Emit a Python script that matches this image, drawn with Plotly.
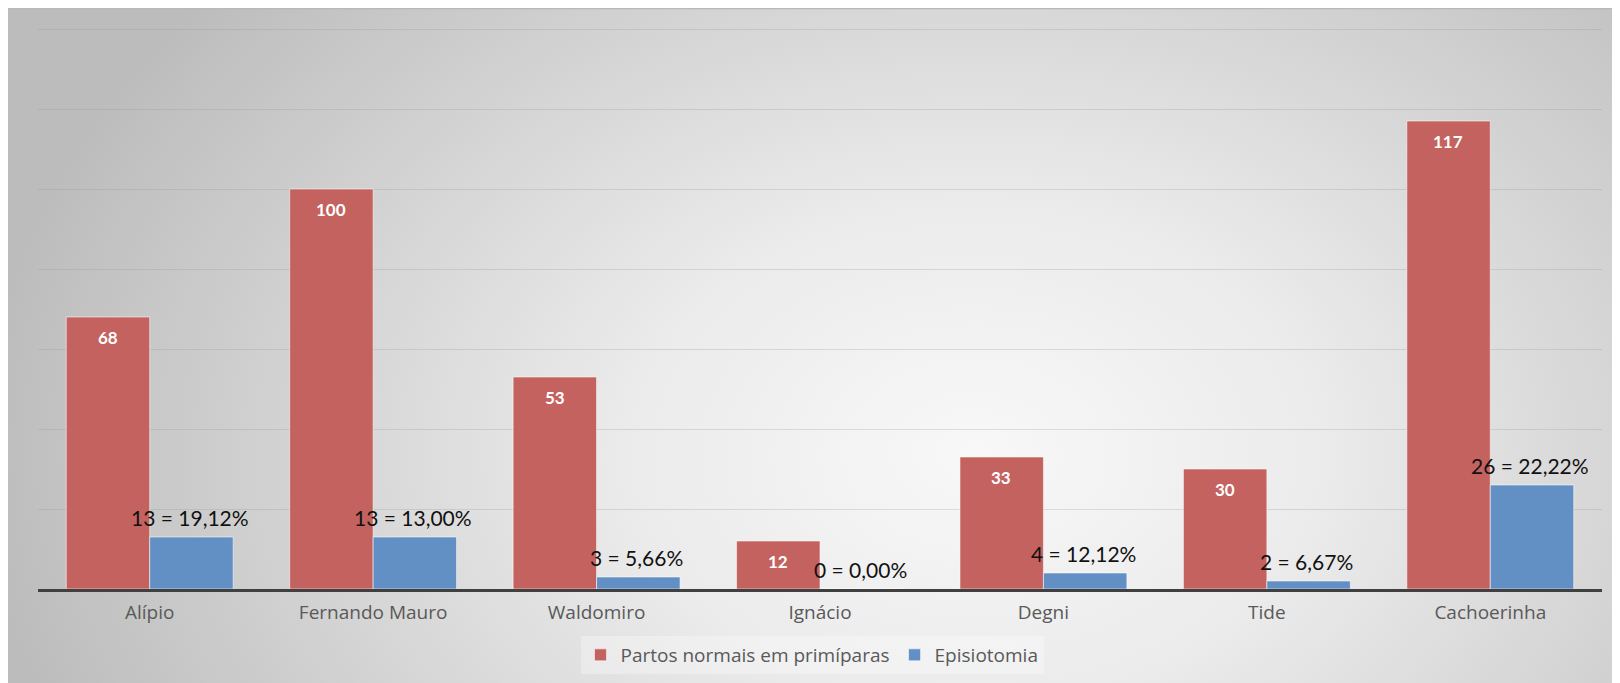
import base64
import plotly.graph_objects as go

categories = ["Alípio", "Fernando Mauro", "Waldomiro", "Ignácio", "Degni", "Tide", "Cachoerinha"]
partos = [68, 100, 53, 12, 33, 30, 117]
episiotomia = [13, 13, 3, 0, 4, 2, 26]
epi_labels = ["13 = 19,12%", "13 = 13,00%", "3 = 5,66%", "0 = 0,00%", "4 = 12,12%", "2 = 6,67%", "26 = 22,22%"]
series_names = ["Partos normais em primíparas", "Episiotomia"]

# page body has an 8px margin, so the figure starts at (8, 8) in the window
W, H = 1612, 675
L, R, T, B = 30, 18, 17, 94
PW, PH = W - L - R, H - T - B

svg = f'''<svg xmlns="http://www.w3.org/2000/svg" width="{W}" height="{H}" viewBox="0 0 {W} {H}">
<defs><radialGradient id="g" gradientUnits="userSpaceOnUse" cx="{W*0.6}" cy="{H*0.66}" r="{W*0.62}"
 gradientTransform="translate({W*0.6} {H*0.66}) scale(1 0.72) translate({-W*0.6} {-H*0.66})">
<stop offset="0" stop-color="#f8f8f8"/><stop offset="0.35" stop-color="#ebebeb"/><stop offset="1" stop-color="#bcbcbc"/></radialGradient></defs>
<rect x="0" y="0" width="{W}" height="{H}" fill="url(#g)"/>
<line x1="0" y1="0.5" x2="{W}" y2="0.5" stroke="#b8b8b8" stroke-width="1.5"/>
</svg>'''
src = "data:image/svg+xml;base64," + base64.b64encode(svg.encode()).decode()

fig = go.Figure()
fig.add_trace(go.Bar(
    x=categories, y=partos, name=series_names[0],
    marker=dict(color="#c4625f", line=dict(color="rgba(255,255,255,0.55)", width=1)),
))
fig.add_trace(go.Bar(
    x=categories, y=episiotomia, name=series_names[1],
    marker=dict(color="#628fc4", line=dict(color="rgba(255,255,255,0.55)", width=1)),
))

annotations = []
for c, v in zip(categories, partos):
    annotations.append(dict(x=c, y=v, xref="x", yref="y", text=f"<b>{v}</b>", showarrow=False,
                            xshift=-42, yshift=-20, yanchor="middle",
                            font=dict(family="Lato", size=17, color="white")))
for c, v, t in zip(categories, episiotomia, epi_labels):
    annotations.append(dict(x=c, y=v, xref="x", yref="y", text=t, showarrow=False,
                            xshift=40, yshift=20, yanchor="middle",
                            font=dict(family="Lato", size=21, color="#111111")))

fig.update_layout(
    width=W, height=H,
    margin=dict(l=L, r=R, t=T, b=B, autoexpand=False),
    paper_bgcolor="#d8d8d8", plot_bgcolor="rgba(0,0,0,0)",
    barmode="group", bargap=0.253, bargroupgap=0,
    font=dict(family="Open Sans", color="#595959"),
    xaxis=dict(showgrid=False, showline=True, linecolor="#404040", linewidth=3,
               ticks="", tickfont=dict(family="Open Sans", size=19, color="#595959"),
               ticklabelstandoff=4, fixedrange=True),
    yaxis=dict(range=[0, 141], tickvals=[20, 40, 60, 80, 100, 120, 140], showgrid=True,
               gridcolor="rgba(150,150,150,0.28)",
               gridwidth=1, showticklabels=False, zeroline=False, showline=False, fixedrange=True),
    legend=dict(orientation="h", x=(804 - L) / PW, xanchor="center", y=(T + PH - 628) / PH,
                yanchor="top",
                bgcolor="rgba(255,255,255,0.3)", font=dict(family="Open Sans", size=19, color="#595959"),
                itemwidth=30, traceorder="normal"),
    images=[dict(source=src, xref="paper", yref="paper",
                 x=-L / PW, y=1 + T / PH,
                 sizex=W / PW, sizey=H / PH, xanchor="left", yanchor="top",
                 sizing="stretch", layer="below")],
    annotations=annotations,
    showlegend=True,
)
fig.update_traces(cliponaxis=False)
fig.write_html("out.html")
